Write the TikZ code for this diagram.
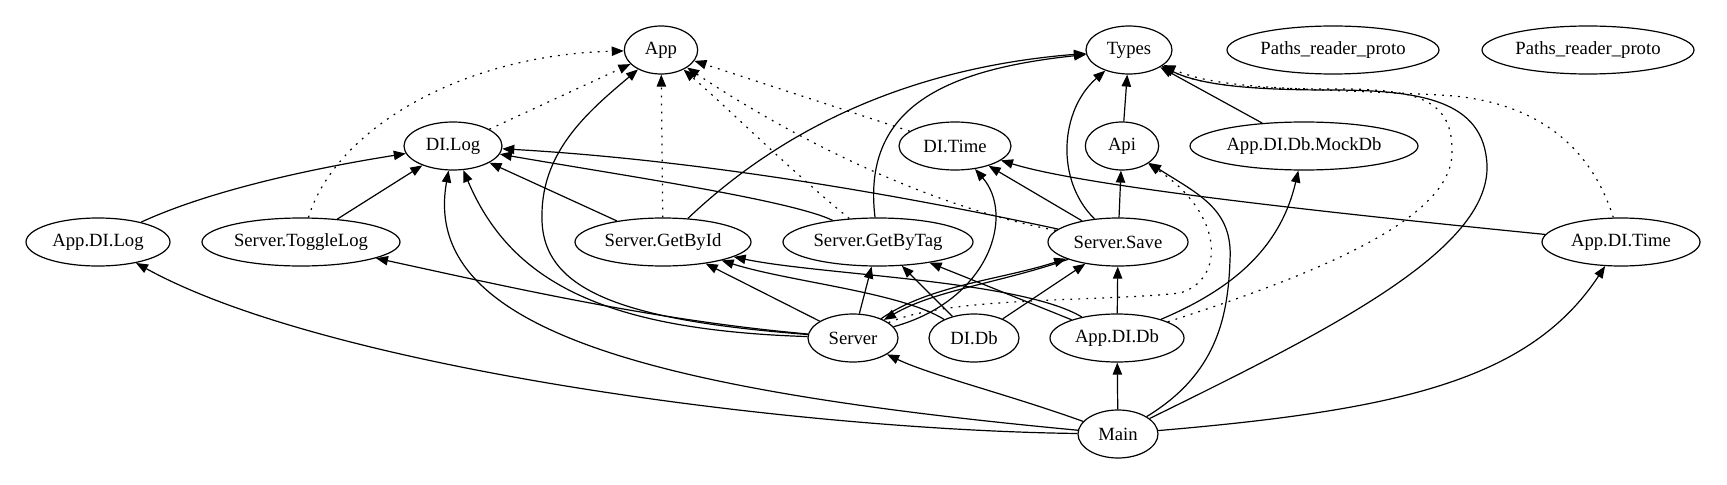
\documentclass[tikz,border=0pt]{standalone}
\usepackage{fontspec}
\setmainfont{Liberation Serif}
\usetikzlibrary{arrows.meta,shapes.geometric}
\tikzset{
  nd/.style={draw, ellipse, inner sep=0pt, minimum height=36pt, line width=0.9pt,
    font=\fontsize{14}{16}\selectfont},
  e/.style={-{Triangle[length=9pt,width=7pt]}, line width=0.9pt},
  dt/.style={e, dash pattern=on 1.4pt off 4.6pt},
}
\newcommand{\lbl}[1]{\makebox[0pt]{#1}}
\begin{document}
\begin{tikzpicture}[x=0.75pt,y=-0.75pt]
\useasboundingbox (0,0) rectangle (1727,485);
% rank 0
\node[nd, minimum width=55pt] (app) at (661,50) {\lbl{App}};
\node[nd, minimum width=64.5pt] (types) at (1129,50) {\lbl{Types}};
\node[nd, minimum width=159pt] (prp1) at (1333,50) {\lbl{Paths\_reader\_proto}};
\node[nd, minimum width=159pt] (prp2) at (1588,50) {\lbl{Paths\_reader\_proto}};
% rank 1
\node[nd, minimum width=73.5pt] (dilog) at (453,146) {\lbl{DI.Log}};
\node[nd, minimum width=84pt] (ditime) at (955,146) {\lbl{DI.Time}};
\node[nd, minimum width=55pt] (api) at (1122,146) {\lbl{Api}};
\node[nd, minimum width=171pt] (mockdb) at (1304,146) {\lbl{App.DI.Db.MockDb}};
% rank 2
\node[nd, minimum width=108pt] (adilog) at (98,242) {\lbl{App.DI.Log}};
\node[nd, minimum width=148.5pt] (togglelog) at (301,242) {\lbl{Server.ToggleLog}};
\node[nd, minimum width=132pt] (getbyid) at (663,242) {\lbl{Server.GetById}};
\node[nd, minimum width=142.5pt] (getbytag) at (878,242) {\lbl{Server.GetByTag}};
\node[nd, minimum width=105pt] (ssave) at (1118,242) {\lbl{Server.Save}};
\node[nd, minimum width=118.5pt] (aditime) at (1621,242) {\lbl{App.DI.Time}};
% rank 3
\node[nd, minimum width=67.5pt] (server) at (853,338) {\lbl{Server}};
\node[nd, minimum width=67.5pt] (didb) at (974,338) {\lbl{DI.Db}};
\node[nd, minimum width=100.5pt] (adidb) at (1117,338) {\lbl{App.DI.Db}};
% rank 4
\node[nd, minimum width=60pt] (main) at (1118,434) {\lbl{Main}};

% into App
\draw[dt] (togglelog) .. controls (335,130) and (460,55) .. (app);
\draw[dt] (dilog) -- (app);
\draw[e] (server) .. controls (620,320) and (540,290) .. (542,215) .. controls (542,150) and (590,110) .. (app);
\draw[dt] (getbyid) -- (app);
\draw[dt] (getbytag) .. controls (790,170) and (730,110) .. (app);
\draw[dt] (ditime) -- (app);
\draw[dt] (ssave) .. controls (920,205) and (780,130) .. (app);

% into Types
\draw[e] (getbyid) .. controls (760,150) and (880,70) .. (types);
\draw[e] (getbytag) .. controls (862,110) and (940,70) .. (types);
\draw[e] (ssave) .. controls (1055,180) and (1060,110) .. (types);
\draw[e] (api) -- (types);
\draw[e] (mockdb) -- (types);
\draw[e] (main) .. controls (1330,330) and (1490,250) .. (1487,165) .. controls (1484,100) and (1420,90) .. (1330,90) .. controls (1250,90) and (1200,85) .. (types);
\draw[dt] (adidb) .. controls (1330,270) and (1455,215) .. (1452,150) .. controls (1452,95) and (1410,88) .. (1320,89) .. controls (1240,88) and (1200,85) .. (types);
\draw[dt] (aditime) .. controls (1592,150) and (1540,100) .. (1440,95) .. controls (1300,88) and (1220,90) .. (types);

% into DI.Log
\draw[e] (adilog) .. controls (200,195) and (290,172) .. (dilog);
\draw[e] (togglelog) -- (dilog);
\draw[e] (getbyid) -- (dilog);
\draw[e] (getbytag) .. controls (790,200) and (620,175) .. (dilog);
\draw[e] (ssave) .. controls (900,195) and (700,160) .. (dilog);
\draw[e] (main) .. controls (650,390) and (420,330) .. (dilog);
\draw[e] (server) .. controls (600,330) and (510,280) .. (dilog);

% into DI.Time
\draw[e] (ssave) -- (ditime);
\draw[e] (aditime) .. controls (1300,210) and (1080,185) .. (ditime);
\draw[e] (server) .. controls (990,300) and (1015,215) .. (ditime);

% into Api
\draw[e] (ssave) -- (api);
\draw[e] (main) .. controls (1215,375) and (1228,320) .. (1230,260) .. controls (1233,210) and (1200,195) .. (api);
\draw[dt] (server) .. controls (950,296) and (1100,302) .. (1180,293) .. controls (1225,280) and (1225,215) .. (api);

% into Server.GetById
\draw[e] (server) -- (getbyid);
\draw[e] (didb) .. controls (900,292) and (790,282) .. (getbyid);
\draw[e] (adidb) .. controls (1020,280) and (820,275) .. (getbyid);

% into Server.GetByTag
\draw[e] (server) -- (getbytag);
\draw[e] (didb) -- (getbytag);
\draw[e] (adidb) -- (getbytag);

% into Server.Save and back
\draw[e] (server) .. controls (930,285) and (1000,280) .. (ssave);
\draw[e] (ssave) .. controls (1000,283) and (935,290) .. (server);
\draw[e] (didb) -- (ssave);
\draw[e] (adidb) -- (ssave);

% into MockDb
\draw[e] (adidb) .. controls (1230,290) and (1280,250) .. (mockdb);

% others from Main / Server
\draw[e] (main) .. controls (800,430) and (330,370) .. (adilog);
\draw[e] (main) .. controls (1010,395) and (930,375) .. (server);
\draw[e] (main) -- (adidb);
\draw[e] (main) .. controls (1400,410) and (1530,380) .. (aditime);
\draw[e] (server) .. controls (650,320) and (500,285) .. (togglelog);
\end{tikzpicture}
\end{document}
